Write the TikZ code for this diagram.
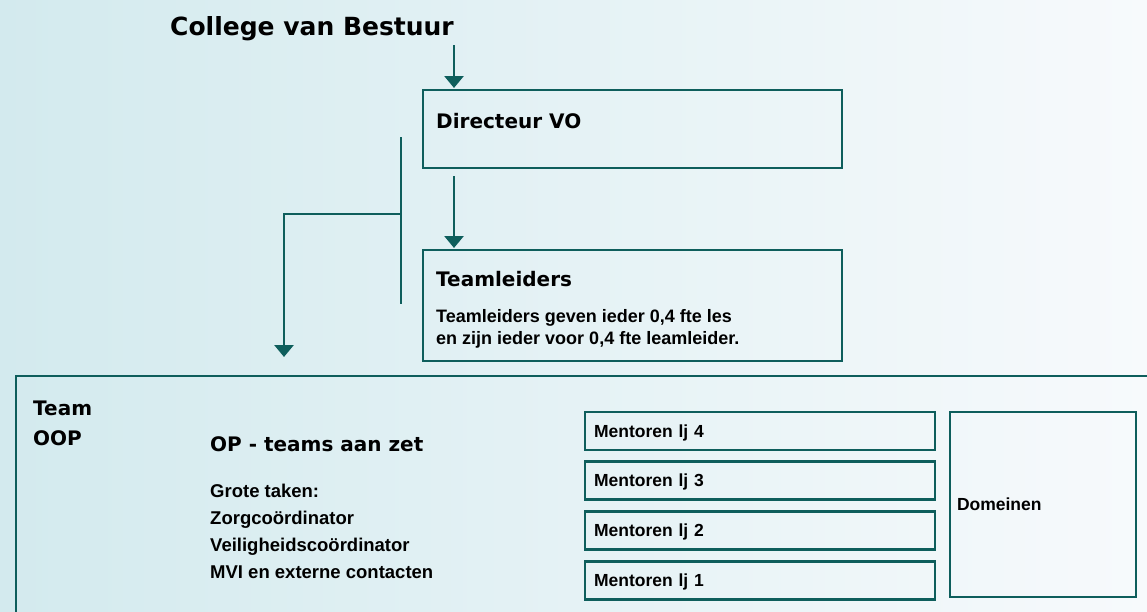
\documentclass[tikz,border=0pt]{standalone}
\usepackage{fontspec}
\setmainfont{Liberation Sans}
\newfontfamily\titlefont{DejaVu Sans}
\usetikzlibrary{arrows.meta,positioning}
\definecolor{oopTeal}{HTML}{0E5E5C}
\definecolor{bgLeft}{HTML}{D3EAEE}
\definecolor{bgRight}{HTML}{F7FAFC}

\begin{document}
\begin{tikzpicture}[x=1pt, y=-1pt,
every node/.style={font=\bfseries, text=black},
box/.style={draw=oopTeal, line width=2.8pt, inner sep=0pt, outer sep=0pt},
mbox/.style={draw=oopTeal, line width=2.8pt, inner xsep=9pt, inner ysep=0pt, outer sep=0pt, text width=332pt, text height=13pt, text depth=1pt, minimum height=38pt, align=left, font=\fontsize{17.5}{20}\selectfont\bfseries},
title/.style={font=\titlefont\fontsize{20}{30}\selectfont\bfseries, inner sep=0pt, anchor=base west, align=left},
body/.style={font=\fontsize{18.5}{27}\selectfont\bfseries, inner sep=0pt, anchor=base west, align=left},
arr/.style={-{Triangle[width=19pt,length=12pt]}, draw=oopTeal, line width=2.8pt},
link/.style={draw=oopTeal, line width=2.8pt}
]
% background
\shade[left color=bgLeft, right color=bgRight] (0,0) rectangle (1147,611);
\useasboundingbox (0,0) rectangle (1147,611);
\clip (0,0) rectangle (1147,611);

% top of the chart
\node[title, font=\titlefont\fontsize{25}{30}\selectfont\bfseries] (cvb) at (170,35) {College van Bestuur};
\node[box, minimum width=419pt, minimum height=78pt, anchor=north west] (dir) at (423,90) {};
\node[title] (dirT) at ([xshift=13pt,yshift=-38pt]dir.north west) {Directeur VO};
\node[box, minimum width=419pt, minimum height=111pt, below=82pt of dir] (tl) {};
\node[title] (tlT) at ([xshift=13pt,yshift=-36pt]tl.north west) {Teamleiders};
% multi-line nodes: base is the last line
\node[body, font=\fontsize{18}{21.5}\selectfont\bfseries] (tlS) at ([xshift=13pt,yshift=-94pt]tl.north west) {Teamleiders geven ieder 0,4 fte les\\en zijn ieder voor 0,4 fte leamleider.};

% team OOP
\node[box, minimum width=1160pt, minimum height=260pt, anchor=north west] (team) at (16,376) {};
\node[title] (teamT) at ([xshift=17pt,yshift=-69pt]team.north west) {Team\\OOP};
\node[title] (opT) at ([xshift=194pt,yshift=-75pt]team.north west) {OP - teams aan zet};
\node[body] (opB) at ([yshift=-127pt]opT.base west) {Grote taken:\\Zorgcoördinator\\Veiligheidscoördinator\\MVI en externe contacten};

\node[mbox, anchor=north west] (m4) at (585,412) {Mentoren lj 4};
\node[mbox, below=11.7pt of m4] (m3) {Mentoren lj 3};
\node[mbox, below=11.7pt of m3] (m2) {Mentoren lj 2};
\node[mbox, below=11.7pt of m2] (m1) {Mentoren lj 1};
\node[box, minimum width=186pt, minimum height=185pt, text width=172pt, inner xsep=7pt, align=left, font=\fontsize{17.5}{20}\selectfont\bfseries, anchor=north west] (dom) at ([xshift=15pt]m4.north east) {Domeinen};

% connectors
\coordinate (cvbOut) at ([xshift=31pt,yshift=45pt]dir.north west);
\draw[arr] (cvbOut) -- ([xshift=31pt,yshift=2pt]dir.north west);
\draw[arr] ([xshift=31pt,yshift=-8pt]dir.south west) -- ([xshift=31pt,yshift=2pt]tl.north west);
\coordinate (brTop) at ([xshift=-22pt,yshift=-47pt]dir.north west);
\coordinate (brMid) at ([xshift=-22pt,yshift=-46pt]dir.south west);
\coordinate (brBot) at ([xshift=-22pt,yshift=-54pt]tl.north west);
\coordinate (oopIn) at ([xshift=268pt,yshift=19pt]team.north west);
\draw[link] (brTop) -- (brBot);
\draw[arr] (brMid) -| (oopIn);
\end{tikzpicture}
\end{document}
